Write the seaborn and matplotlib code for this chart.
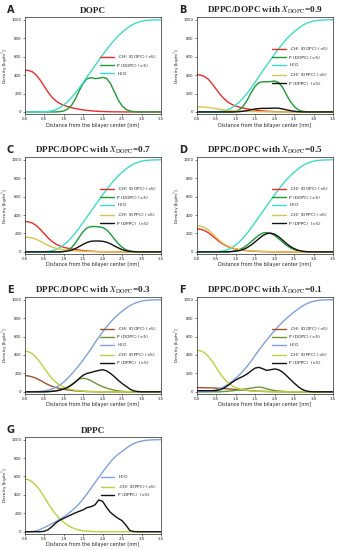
import numpy as np
import pandas as pd
import seaborn as sns
import matplotlib.pyplot as plt

sns.set_style("ticks")
plt.rcParams["mathtext.fontset"] = "stix"

# distance from the bilayer centre, 0.0 .. 3.5 nm every 0.1 nm
x = np.round(np.arange(0, 36) * 0.1, 1)

# ---- A: DOPC ----
ch3_dopc_A = [455, 450, 435, 400, 345, 280, 215, 160, 120, 92, 72, 58, 46, 37, 29, 22, 17, 12, 9, 6,
              4, 3, 2, 1, 1, 0, 0, 0, 0, 0, 0, 0, 0, 0, 0, 0]
p_dopc_A = [0, 0, 0, 0, 0, 0, 0, 0, 0, 3, 10, 30, 70, 140, 230, 310, 360, 372, 362, 365,
            375, 365, 310, 220, 130, 65, 28, 10, 3, 0, 0, 0, 0, 0, 0, 0]
h2o_A = [0, 0, 0, 0, 1, 2, 5, 12, 25, 45, 75, 110, 155, 205, 260, 320, 380, 440, 500, 560,
         620, 675, 730, 780, 825, 865, 900, 930, 955, 972, 985, 992, 996, 998, 999, 1000]

# ---- B: X_DOPC = 0.9 ----
ch3_dopc_B = [405, 400, 385, 355, 305, 248, 192, 145, 108, 82, 64, 51, 41, 33, 26, 20, 15, 11, 8, 5,
              3, 2, 1, 1, 0, 0, 0, 0, 0, 0, 0, 0, 0, 0, 0, 0]
p_dopc_B = [0, 0, 0, 0, 0, 0, 0, 0, 0, 0, 8, 25, 65, 130, 210, 280, 318, 328, 326, 330,
            335, 320, 270, 190, 115, 60, 25, 8, 2, 0, 0, 0, 0, 0, 0, 0]
h2o_B = [0, 0, 0, 0, 1, 2, 5, 12, 25, 45, 75, 110, 155, 205, 262, 322, 385, 447, 508, 568,
         628, 684, 738, 788, 832, 870, 905, 935, 958, 975, 987, 993, 997, 999, 1000, 1000]
ch3_dppc_B = [55, 54, 52, 48, 42, 35, 28, 22, 17, 13, 10, 8, 6, 5, 4, 3, 2, 2, 1, 1,
              0, 0, 0, 0, 0, 0, 0, 0, 0, 0, 0, 0, 0, 0, 0, 0]
p_dppc_B = [0, 0, 0, 0, 0, 0, 0, 0, 0, 0, 0, 3, 8, 15, 24, 32, 37, 39, 39, 40,
            42, 40, 33, 23, 14, 7, 3, 1, 0, 0, 0, 0, 0, 0, 0, 0]

# ---- C: X_DOPC = 0.7 ----
ch3_dopc_C = [330, 326, 312, 285, 245, 198, 152, 114, 85, 65, 50, 40, 32, 25, 19, 14, 10, 7, 5, 3,
              2, 1, 0, 0, 0, 0, 0, 0, 0, 0, 0, 0, 0, 0, 0, 0]
p_dopc_C = [0, 0, 0, 0, 0, 0, 0, 0, 0, 0, 5, 18, 45, 95, 160, 220, 260, 275, 275, 272,
            265, 240, 195, 140, 90, 50, 23, 9, 3, 0, 0, 0, 0, 0, 0, 0]
h2o_C = [0, 0, 0, 0, 1, 2, 5, 12, 25, 45, 75, 110, 155, 205, 260, 320, 380, 440, 500, 560,
         620, 675, 730, 780, 825, 865, 900, 930, 955, 972, 985, 992, 996, 998, 999, 1000]
ch3_dppc_C = [160, 157, 150, 136, 116, 93, 71, 53, 40, 30, 23, 18, 14, 10, 8, 6, 4, 3, 2, 1,
              1, 0, 0, 0, 0, 0, 0, 0, 0, 0, 0, 0, 0, 0, 0, 0]
p_dppc_C = [0, 0, 0, 0, 0, 0, 0, 0, 0, 0, 3, 8, 18, 35, 58, 82, 102, 115, 118, 118,
            115, 105, 88, 65, 43, 25, 12, 5, 2, 0, 0, 0, 0, 0, 0, 0]

# ---- D: X_DOPC = 0.5 ----
ch3_dopc_D = [250, 246, 232, 208, 176, 140, 106, 78, 57, 42, 31, 23, 17, 12, 9, 6, 4, 3, 2, 1,
              0, 0, 0, 0, 0, 0, 0, 0, 0, 0, 0, 0, 0, 0, 0, 0]
p_dopc_D = [0, 0, 0, 0, 0, 0, 0, 0, 2, 5, 12, 25, 45, 75, 110, 148, 182, 205, 210, 200,
            178, 145, 108, 73, 45, 25, 12, 5, 2, 0, 0, 0, 0, 0, 0, 0]
h2o_D = [0, 0, 0, 0, 1, 2, 5, 12, 25, 45, 75, 110, 155, 205, 260, 320, 380, 440, 500, 560,
         620, 675, 730, 780, 825, 865, 900, 930, 955, 972, 985, 992, 996, 998, 999, 1000]
ch3_dppc_D = [285, 280, 265, 238, 200, 158, 118, 86, 63, 47, 35, 27, 20, 15, 11, 8, 6, 4, 3, 2,
              1, 1, 0, 0, 0, 0, 0, 0, 0, 0, 0, 0, 0, 0, 0, 0]
p_dppc_D = [0, 0, 0, 0, 0, 0, 0, 0, 0, 3, 7, 14, 27, 47, 75, 108, 145, 178, 198, 203,
            192, 165, 130, 92, 60, 35, 18, 8, 3, 0, 0, 0, 0, 0, 0, 0]

# ---- E: X_DOPC = 0.3 ----
ch3_dopc_E = [176, 172, 162, 146, 125, 100, 78, 60, 46, 36, 28, 21, 15, 11, 8, 5, 3, 2, 1, 0,
              0, 0, 0, 0, 0, 0, 0, 0, 0, 0, 0, 0, 0, 0, 0, 0]
p_dopc_E = [0, 0, 0, 0, 0, 0, 2, 5, 10, 18, 30, 50, 78, 110, 138, 148, 140, 122, 98, 75,
            56, 40, 28, 18, 10, 5, 2, 0, 0, 0, 0, 0, 0, 0, 0, 0]
h2o_E = [0, 0, 1, 2, 5, 10, 18, 30, 48, 72, 105, 145, 190, 238, 290, 345, 405, 465, 530, 592,
         650, 705, 755, 800, 840, 875, 908, 935, 957, 973, 985, 992, 996, 998, 999, 1000]
ch3_dppc_E = [442, 435, 412, 372, 318, 258, 198, 146, 104, 72, 50, 35, 24, 16, 11, 7, 5, 3, 2, 1,
              0, 0, 0, 0, 0, 0, 0, 0, 0, 0, 0, 0, 0, 0, 0, 0]
p_dppc_E = [0, 0, 0, 0, 0, 0, 2, 5, 10, 18, 30, 48, 72, 105, 145, 180, 200, 210, 222, 232,
            240, 228, 200, 165, 125, 90, 60, 30, 10, 3, 0, 0, 0, 0, 0, 0]

# ---- F: X_DOPC = 0.1 ----
ch3_dopc_F = [45, 45, 44, 43, 42, 40, 38, 35, 32, 29, 25, 21, 18, 15, 12, 9, 7, 5, 4, 3,
              2, 1, 1, 0, 0, 0, 0, 0, 0, 0, 0, 0, 0, 0, 0, 0]
p_dopc_F = [0, 0, 0, 0, 0, 0, 0, 3, 6, 10, 16, 22, 28, 34, 40, 47, 52, 45, 32, 22,
            14, 9, 5, 3, 1, 0, 0, 0, 0, 0, 0, 0, 0, 0, 0, 0]
h2o_F = [0, 1, 2, 4, 10, 20, 35, 55, 80, 110, 145, 185, 230, 280, 335, 395, 455, 510, 565, 615,
         665, 712, 755, 795, 832, 866, 898, 927, 952, 970, 983, 991, 996, 998, 999, 1000]
ch3_dppc_F = [450, 445, 425, 385, 330, 265, 200, 145, 100, 68, 46, 32, 22, 15, 10, 7, 5, 3, 2, 1,
              0, 0, 0, 0, 0, 0, 0, 0, 0, 0, 0, 0, 0, 0, 0, 0]
p_dppc_F = [12, 12, 12, 12, 12, 14, 22, 40, 68, 100, 128, 150, 170, 195, 228, 258, 265, 250, 232, 240,
            248, 240, 215, 178, 135, 95, 58, 28, 10, 3, 0, 0, 0, 0, 0, 0]

# ---- G: DPPC ----
h2o_G = [0, 1, 3, 10, 25, 45, 65, 88, 110, 135, 160, 190, 225, 262, 305, 355, 412, 470, 530, 590,
         648, 705, 758, 805, 842, 872, 905, 935, 958, 974, 985, 992, 996, 998, 999, 1000]
ch3_dppc_G = [575, 565, 540, 500, 445, 380, 310, 245, 188, 140, 102, 72, 48, 30, 18, 10, 5, 3, 1, 0,
              0, 0, 0, 0, 0, 0, 0, 0, 0, 0, 0, 0, 0, 0, 0, 0]
p_dppc_G = [0, 0, 0, 0, 0, 5, 22, 55, 95, 125, 145, 165, 185, 205, 222, 238, 262, 272, 290, 345,
            330, 265, 210, 175, 145, 120, 70, 12, 2, 0, 0, 0, 0, 0, 0, 0]

L_CH3_DOPC = "-CH$_3$ (DOPC) (\u00d75)"
L_P_DOPC = "P (DOPC) (\u00d75)"
L_H2O = "H$_2$O"
L_CH3_DPPC = "-CH$_3$ (DPPC) (\u00d75)"
L_P_DPPC = "P (DPPC)  (\u00d75)"

# two colour schemes used in the figure
col1 = {L_CH3_DOPC: "#ee2a2a", L_P_DOPC: "#1e9a35", L_H2O: "#3ddcc8",
        L_CH3_DPPC: "#d8c64e", L_P_DPPC: "#111111"}
col2 = {L_CH3_DOPC: "#a0522d", L_P_DOPC: "#6a9a34", L_H2O: "#7ea2dc",
        L_CH3_DPPC: "#b8d43a", L_P_DPPC: "#111111"}

panels = [
    ("A", "DOPC", col1, [(L_CH3_DOPC, ch3_dopc_A), (L_P_DOPC, p_dopc_A), (L_H2O, h2o_A)]),
    ("B", "DPPC/DOPC with $X_{\\mathrm{DOPC}}$=0.9", col1,
     [(L_CH3_DOPC, ch3_dopc_B), (L_P_DOPC, p_dopc_B), (L_H2O, h2o_B),
      (L_CH3_DPPC, ch3_dppc_B), (L_P_DPPC, p_dppc_B)]),
    ("C", "DPPC/DOPC with $X_{\\mathrm{DOPC}}$=0.7", col1,
     [(L_CH3_DOPC, ch3_dopc_C), (L_P_DOPC, p_dopc_C), (L_H2O, h2o_C),
      (L_CH3_DPPC, ch3_dppc_C), (L_P_DPPC, p_dppc_C)]),
    ("D", "DPPC/DOPC with $X_{\\mathrm{DOPC}}$=0.5", col1,
     [(L_CH3_DOPC, ch3_dopc_D), (L_P_DOPC, p_dopc_D), (L_H2O, h2o_D),
      (L_CH3_DPPC, ch3_dppc_D), (L_P_DPPC, p_dppc_D)]),
    ("E", "DPPC/DOPC with $X_{\\mathrm{DOPC}}$=0.3", col2,
     [(L_CH3_DOPC, ch3_dopc_E), (L_P_DOPC, p_dopc_E), (L_H2O, h2o_E),
      (L_CH3_DPPC, ch3_dppc_E), (L_P_DPPC, p_dppc_E)]),
    ("F", "DPPC/DOPC with $X_{\\mathrm{DOPC}}$=0.1", col2,
     [(L_CH3_DOPC, ch3_dopc_F), (L_P_DOPC, p_dopc_F), (L_H2O, h2o_F),
      (L_CH3_DPPC, ch3_dppc_F), (L_P_DPPC, p_dppc_F)]),
    ("G", "DPPC", col2, [(L_H2O, h2o_G), (L_CH3_DPPC, ch3_dppc_G), (L_P_DPPC, p_dppc_G)]),
]

fig, axes = plt.subplots(4, 2, figsize=(3.42, 5.5), dpi=100)
fig.subplots_adjust(left=0.072, right=0.974, bottom=0.029, top=0.969, hspace=0.44, wspace=0.26)

for ax, (letter, title, colors, series) in zip(axes.flat, panels):
    long = pd.concat(
        [pd.DataFrame({"x": x, "density": vals, "series": name}) for name, vals in series],
        ignore_index=True,
    )
    order = [name for name, _ in series]
    sns.lineplot(data=long, x="x", y="density", hue="series", hue_order=order,
                 palette=colors, linewidth=1.0, ax=ax)
    ax.set_xlim(0, 3.5)
    ax.set_ylim(-25, 1030)
    ax.set_xticks(np.arange(0, 3.51, 0.5))
    ax.set_yticks(np.arange(0, 1001, 200))
    ax.tick_params(labelsize=2.9, length=1.3, width=0.4, pad=0.8)
    for s in ax.spines.values():
        s.set_linewidth(0.5)
    ax.set_xlabel("Distance from the bilayer center [nm]", fontsize=3.5, labelpad=1)
    ax.set_ylabel("Density [kg/m$^3$]", fontsize=3.2, labelpad=0.8)
    ax.set_title(title, fontsize=6.6, fontweight="bold", family="Liberation Serif", pad=3)
    ax.text(-0.13, 1.07, letter, transform=ax.transAxes, fontsize=7, fontweight="bold",
            family="DejaVu Sans", va="center", ha="left")
    ax.legend(loc="center right", bbox_to_anchor=(1.0, 0.5), fontsize=3.2, frameon=False,
              handlelength=3.0, labelspacing=0.5, handletextpad=0.8)

axes[3, 1].axis("off")

plt.savefig("out.png", dpi=100)
plt.close()
